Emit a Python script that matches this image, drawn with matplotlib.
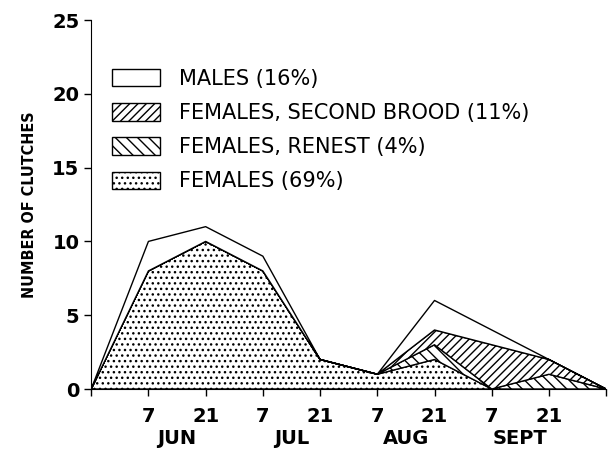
"""Seasonal distribution of clutches by parent type (stacked areas)."""

import matplotlib.pyplot as plt
import numpy as np

# half-month periods, late May through end of September
periods = np.arange(10)
day_labels = ["", "7", "21", "7", "21", "7", "21", "7", "21", ""]
month_labels = ["JUN", "JUL", "AUG", "SEPT"]

females = [0, 8, 10, 8, 2, 1, 2, 0, 0, 0]
females_renest = [0, 0, 0, 0, 0, 0, 1, 0, 1, 0]
females_second = [0, 0, 0, 0, 0, 0, 1, 3, 1, 0]
males = [0, 2, 1, 1, 0, 0, 2, 1, 0, 0]

series_labels = ["FEMALES (69%)", "FEMALES, RENEST (4%)",
                 "FEMALES, SECOND BROOD (11%)", "MALES (16%)"]
hatches = ["...", "\\\\\\", "////", ""]

plt.rcParams["font.family"] = ["DejaVu Sans"]
plt.rcParams["hatch.linewidth"] = 1.0

fig = plt.figure(figsize=(6.08, 4.49), dpi=100)
ax = fig.add_axes([0.150, 0.1336, 0.847, 0.8218])

stack = np.vstack([females, females_renest, females_second, males])
polys = ax.stackplot(periods, stack, colors=["white"] * 4,
                     edgecolor="black", linewidth=1.0)
for poly, h in zip(polys, hatches):
    poly.set_hatch(h)

# legend drawn top-down: males first
handles = polys[::-1]
labels = series_labels[::-1]
ax.legend(handles, labels, loc="upper left", bbox_to_anchor=(0.025, 0.89),
          frameon=False, fontsize=15, handlelength=2.3, handleheight=0.9,
          labelspacing=0.68, handletextpad=0.9, borderaxespad=0)

ax.set_xlim(0, 9)
ax.set_ylim(0, 25)
ax.set_yticks([0, 5, 10, 15, 20, 25])
ax.set_xticks(periods)
ax.set_xticklabels(day_labels)
ax.tick_params(axis="both", direction="out", length=5, width=1,
               labelsize=14, colors="black")
ax.tick_params(axis="x", pad=8)
for t in ax.get_xticklabels() + ax.get_yticklabels():
    t.set_fontweight("bold")

for i, m in enumerate(month_labels):
    ax.text(1.5 + 2 * i, -0.133, m, transform=ax.get_xaxis_transform(),
            ha="center", va="center", fontsize=14, fontweight="bold")

ax.set_ylabel("NUMBER OF CLUTCHES", fontsize=11.5, fontstretch="condensed",
              fontweight="bold", labelpad=11)

ax.spines["top"].set_visible(False)
ax.spines["right"].set_visible(False)

fig.savefig("out.png", dpi=100)
